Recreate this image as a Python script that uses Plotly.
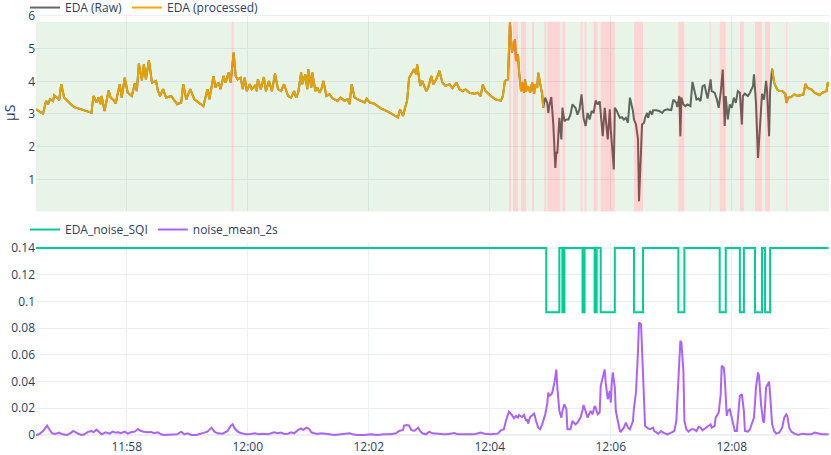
"""
EDA 信号质量图
上图: 原始/处理后 EDA 与噪声区间, 下图: 噪声 SQI 与 2 秒噪声均值
"""

import pandas as pd
import plotly.graph_objects as go

START = pd.Timestamp("2024-01-01 11:56:30")
END_SEC = 786.4

# 原始 EDA (秒, μS)
eda_sec = [
    0, 7, 10, 12, 14, 17, 18, 21, 23, 25, 28, 31, 35, 38, 45, 53, 55, 57, 60, 62,
    64, 65, 68, 72, 74, 77, 79, 83, 85, 88, 91, 95, 98, 100, 102, 105, 107, 109, 112, 115,
    119, 121, 123, 126, 129, 134, 140, 144, 146, 149, 153, 157, 164, 166, 170, 172, 176, 178, 181, 183,
    186, 188, 191, 193, 196, 198, 200, 203, 205, 207, 209, 212, 214, 217, 219, 220, 223, 226, 228, 231,
    234, 237, 240, 243, 246, 250, 253, 256, 258, 260, 263, 264, 267, 269, 270, 273, 274, 277, 279, 281,
    283, 285, 288, 291, 294, 299, 302, 306, 309, 311, 313, 316, 321, 326, 328, 331, 335, 342, 349, 357,
    359, 361, 364, 366, 368, 370, 373, 375, 377, 378, 381, 383, 387, 389, 392, 394, 397, 400, 403, 406,
    410, 413, 417, 420, 423, 426, 430, 435, 438, 441, 443, 446, 451, 456, 461, 463, 465, 468, 470, 472,
    474, 475, 476, 478, 479, 481, 482, 484, 485, 486, 488, 490, 492, 494, 495, 497, 498, 500, 502, 503,
    505, 507, 508, 509, 511, 513, 515, 516, 517, 519, 521, 522, 524, 526, 528, 530, 532, 535, 537, 539,
    541, 543, 545, 547, 549, 551, 553, 555, 557, 559, 560, 562, 564, 565, 567, 569, 570, 573, 574, 576,
    579, 581, 583, 585, 587, 589, 592, 593, 595, 597, 598, 601, 603, 604, 606, 607, 609, 611, 612, 615,
    618, 621, 623, 626, 630, 632, 635, 636, 638, 639, 640, 642, 644, 646, 649, 651, 653, 655, 657, 659,
    661, 663, 665, 666, 669, 670, 673, 675, 677, 679, 681, 683, 684, 686, 688, 690, 692, 694, 696, 698,
    700, 701, 703, 706, 708, 709, 711, 712, 714, 716, 718, 720, 722, 724, 725, 727, 728, 730, 732, 735,
    737, 740, 743, 744, 746, 749, 752, 755, 759, 761, 763, 765, 769, 772, 777, 780, 784, 785, 787,
]
eda_raw = [
    3.14, 3.01, 3.40, 3.30, 3.45, 3.40, 3.57, 3.50, 3.42, 3.91, 3.50, 3.40, 3.28, 3.21, 3.14, 3.07, 3.04, 3.55, 3.35, 3.50,
    3.30, 3.55, 3.09, 3.72, 3.50, 3.42, 3.32, 3.91, 3.50, 4.11, 3.65, 3.55, 3.93, 3.70, 4.54, 4.03, 4.52, 4.06, 4.64, 3.96,
    4.01, 3.70, 3.55, 3.76, 3.50, 3.55, 3.30, 3.35, 3.91, 3.45, 3.76, 3.45, 3.30, 3.24, 3.76, 3.45, 4.16, 3.81, 3.96, 3.76,
    4.16, 3.96, 4.27, 3.96, 4.88, 4.16, 4.06, 4.11, 3.76, 4.11, 3.70, 3.91, 3.76, 3.86, 3.70, 4.06, 3.76, 4.13, 3.70, 4.01,
    3.70, 4.23, 3.76, 3.70, 3.91, 3.55, 3.50, 3.70, 3.50, 3.65, 4.27, 3.91, 4.21, 3.76, 4.37, 3.81, 4.27, 3.70, 3.81, 3.65,
    3.76, 4.01, 3.55, 3.60, 3.48, 3.40, 3.50, 3.40, 3.45, 3.30, 3.91, 3.50, 3.42, 3.35, 3.47, 3.35, 3.32, 3.17, 3.07, 2.94,
    2.89, 3.14, 2.94, 3.19, 3.40, 4.11, 4.27, 4.37, 4.22, 4.52, 3.86, 4.01, 3.70, 3.81, 4.16, 3.91, 4.06, 4.32, 3.96, 3.86,
    3.91, 3.79, 3.96, 3.75, 3.70, 3.75, 3.65, 3.62, 3.65, 3.55, 3.90, 3.70, 3.55, 3.44, 3.41, 3.55, 4.01, 4.06, 5.80, 4.88,
    5.13, 5.28, 4.62, 4.82, 4.31, 3.70, 3.96, 3.65, 4.06, 3.70, 3.85, 3.65, 3.96, 3.62, 3.90, 3.80, 4.26, 3.96, 3.60, 3.19,
    3.50, 3.34, 3.03, 3.24, 3.52, 2.68, 1.35, 1.81, 1.81, 2.88, 2.22, 3.19, 2.78, 2.83, 2.83, 2.98, 3.29, 3.19, 2.98, 3.14,
    3.60, 2.88, 2.63, 3.03, 2.83, 3.09, 3.03, 3.41, 3.29, 3.39, 2.93, 2.32, 3.19, 2.78, 2.22, 3.14, 2.52, 1.30, 3.19, 3.09,
    2.88, 2.90, 2.83, 2.88, 2.73, 3.50, 3.09, 2.83, 2.68, 2.22, 0.33, 2.68, 2.73, 2.88, 3.03, 2.88, 3.09, 2.98, 3.11, 3.11,
    3.09, 3.03, 3.11, 3.14, 3.12, 3.44, 3.34, 3.21, 3.55, 2.32, 3.50, 3.29, 3.24, 3.29, 3.24, 3.98, 3.70, 3.44, 3.47, 3.39,
    3.85, 3.88, 3.60, 3.47, 4.06, 3.70, 3.65, 3.47, 3.19, 3.65, 4.36, 2.63, 3.55, 2.83, 3.29, 3.19, 3.50, 3.34, 3.70, 3.65,
    2.68, 3.55, 3.62, 3.55, 3.65, 3.72, 3.85, 4.21, 3.34, 1.65, 2.63, 3.62, 3.44, 4.01, 3.70, 2.32, 3.70, 4.39, 3.96, 3.75,
    3.70, 3.70, 3.62, 3.34, 3.50, 3.52, 3.60, 3.55, 3.58, 3.60, 3.92, 3.80, 3.75, 3.65, 3.58, 3.65, 3.70, 3.96, 3.85,
]

# 处理后信号缺失的区间 (秒)
processed_gap = [504, 729]

# 噪声区间 (秒)
noise_windows = [
    (194, 196), (469, 471), (473, 478), (481, 486), (492, 494), (504, 506), (507, 520),
    (522, 525), (540, 542), (544, 546), (553, 557), (560, 574), (593, 602), (637, 643),
    (668, 669), (678, 684), (698, 702), (713, 720), (723, 728), (744, 745),
]

# EDA_noise_SQI 阶梯
sqi_sec = [0, 506, 519, 522, 524, 542, 544, 554, 556, 560, 574, 593, 602, 637, 643,
           678, 684, 698, 702, 713, 720, 723, 728, 786]
sqi_val = [0.14, 0.092, 0.14, 0.092, 0.14, 0.092, 0.14, 0.092, 0.14, 0.092, 0.14, 0.092,
           0.14, 0.092, 0.14, 0.092, 0.14, 0.092, 0.14, 0.092, 0.14, 0.092, 0.14, 0.14]

# noise_mean_2s
noise_sec = [
    0, 3, 7, 11, 13, 16, 19, 23, 26, 31, 35, 37, 41, 45, 48, 52, 55, 57, 60, 63,
    65, 69, 73, 76, 79, 82, 84, 88, 91, 94, 98, 101, 104, 107, 111, 114, 117, 121, 124, 127,
    134, 140, 144, 147, 150, 154, 159, 164, 167, 170, 174, 177, 180, 185, 190, 193, 195, 197, 201, 204,
    208, 213, 217, 221, 225, 230, 233, 236, 240, 243, 246, 250, 253, 256, 260, 263, 265, 268, 271, 273,
    276, 279, 283, 286, 291, 296, 302, 307, 311, 314, 319, 326, 332, 339, 345, 352, 357, 360, 364, 365,
    368, 370, 372, 375, 379, 381, 383, 387, 390, 393, 397, 400, 405, 408, 415, 418, 428, 435, 441, 445,
    451, 458, 461, 464, 466, 469, 472, 474, 476, 478, 479, 482, 484, 486, 487, 488, 490, 493, 494, 496,
    498, 500, 502, 505, 507, 508, 509, 511, 512, 514, 516, 517, 519, 521, 522, 524, 526, 527, 530, 532,
    535, 537, 540, 542, 543, 545, 547, 550, 552, 554, 555, 557, 559, 560, 562, 564, 565, 567, 569, 570,
    571, 572, 574, 575, 577, 579, 580, 583, 585, 587, 589, 592, 593, 595, 597, 598, 600, 601, 603, 604,
    607, 609, 612, 613, 617, 620, 622, 626, 630, 633, 635, 637, 639, 640, 642, 643, 645, 647, 650, 652,
    655, 657, 659, 661, 664, 667, 669, 670, 673, 674, 677, 679, 680, 682, 683, 685, 686, 688, 689, 691,
    693, 695, 697, 698, 700, 702, 703, 706, 708, 711, 712, 714, 716, 717, 719, 721, 722, 724, 726, 727,
    728, 730, 732, 734, 737, 740, 742, 744, 745, 747, 749, 752, 756, 760, 764, 769, 772, 775, 779, 786,
]
noise_mean = [
    0.0, 0.0005, 0.003, 0.007, 0.0045, 0.0013, 0.0008, 0.0018, 0.0005, 0.0, 0.0018, 0.003, 0.0013, 0.0, 0.0005, 0.0025, 0.003, 0.002, 0.004, 0.0018,
    0.0005, 0.002, 0.001, 0.0025, 0.0018, 0.002, 0.0013, 0.0025, 0.001, 0.002, 0.0025, 0.0045, 0.003, 0.0025, 0.002, 0.0023, 0.0013, 0.002, 0.0005, 0.0,
    0.0, 0.0005, 0.0025, 0.0005, 0.0013, 0.0, 0.0, 0.0008, 0.0018, 0.0025, 0.0055, 0.0025, 0.0013, 0.001, 0.003, 0.0068, 0.008, 0.005, 0.002, 0.0013,
    0.0005, 0.0008, 0.0013, 0.0005, 0.001, 0.0005, 0.0013, 0.002, 0.0013, 0.0018, 0.0008, 0.001, 0.002, 0.0013, 0.0038, 0.005, 0.0038, 0.0055, 0.0045, 0.002,
    0.0013, 0.0008, 0.0013, 0.0008, 0.0005, 0.0, 0.0005, 0.0005, 0.0013, 0.0005, 0.0, 0.0, 0.0005, 0.0, 0.0005, 0.0005, 0.0013, 0.003, 0.0038, 0.007,
    0.0075, 0.007, 0.0038, 0.003, 0.0055, 0.003, 0.0013, 0.0005, 0.0025, 0.0013, 0.001, 0.0005, 0.0005, 0.0005, 0.0015, 0.0005, 0.0005, 0.0005, 0.0018, 0.001,
    0.0005, 0.001, 0.0035, 0.0043, 0.0105, 0.0175, 0.015, 0.0125, 0.0143, 0.013, 0.015, 0.0135, 0.015, 0.0105, 0.0118, 0.0085, 0.0135, 0.0155, 0.016, 0.0105,
    0.0055, 0.0043, 0.008, 0.0155, 0.0235, 0.0318, 0.0293, 0.0305, 0.0318, 0.039, 0.049, 0.0355, 0.018, 0.013, 0.018, 0.023, 0.0193, 0.0043, 0.0043, 0.0105,
    0.008, 0.0093, 0.013, 0.0185, 0.0225, 0.018, 0.013, 0.018, 0.0155, 0.0218, 0.0205, 0.0155, 0.0168, 0.0368, 0.043, 0.049, 0.039, 0.0268, 0.033, 0.0243,
    0.039, 0.0468, 0.0355, 0.018, 0.0105, 0.003, 0.0025, 0.0055, 0.0093, 0.0055, 0.0043, 0.0105, 0.0205, 0.0318, 0.063, 0.0843, 0.083, 0.063, 0.018, 0.0068,
    0.005, 0.0043, 0.0055, 0.003, 0.001, 0.003, 0.0018, 0.0005, 0.0018, 0.003, 0.0105, 0.0405, 0.0705, 0.0693, 0.048, 0.0105, 0.0043, 0.0025, 0.0043, 0.0043,
    0.003, 0.006, 0.0055, 0.0035, 0.005, 0.0068, 0.008, 0.0055, 0.0068, 0.013, 0.0168, 0.0305, 0.0518, 0.0505, 0.043, 0.0143, 0.018, 0.0193, 0.0155, 0.008,
    0.003, 0.003, 0.018, 0.0293, 0.0305, 0.018, 0.003, 0.0025, 0.0043, 0.0105, 0.013, 0.0355, 0.0468, 0.0443, 0.023, 0.0105, 0.0093, 0.0355, 0.0393, 0.04,
    0.0305, 0.008, 0.003, 0.001, 0.0018, 0.0055, 0.013, 0.0155, 0.0143, 0.0055, 0.0025, 0.001, 0.0, 0.001, 0.0005, 0.0005, 0.0018, 0.001, 0.0005, 0.0005,
]

RAW_COLOR = "#666666"
PROC_COLOR = "orange"
SQI_COLOR = "#00cc96"
NOISE_COLOR = "#ab63fa"


def to_time(seconds):
    """秒偏移 -> 时间戳"""
    return [START + pd.Timedelta(seconds=s) for s in seconds]


def mask_processed(seconds, values, gap):
    """处理后信号: 缺失区间置空"""
    return [None if gap[0] <= s <= gap[1] else v for s, v in zip(seconds, values)]


def quality_shapes(windows, y_top):
    """噪声区间为红色, 其余为绿色"""
    shapes = []
    edges = [0]
    for a, b in windows:
        edges += [a, b]
    edges.append(END_SEC)
    for i in range(0, len(edges), 2):
        shapes.append(dict(type="rect", xref="x", yref="y", x0=to_time([edges[i]])[0],
                           x1=to_time([edges[i + 1]])[0], y0=0, y1=y_top,
                           fillcolor="rgba(0,128,0,0.09)", line_width=0, layer="above"))
    for a, b in windows:
        shapes.append(dict(type="rect", xref="x", yref="y", x0=to_time([a])[0],
                           x1=to_time([b])[0], y0=0, y1=y_top,
                           fillcolor="rgba(255,0,0,0.17)", line_width=0, layer="above"))
    return shapes


fig = go.Figure()
fig.add_trace(go.Scatter(x=to_time(eda_sec), y=eda_raw, mode="lines", name="EDA (Raw)",
                         line=dict(color=RAW_COLOR, width=2), xaxis="x", yaxis="y",
                         legend="legend"))
fig.add_trace(go.Scatter(x=to_time(eda_sec), y=mask_processed(eda_sec, eda_raw, processed_gap),
                         mode="lines", name="EDA (processed)",
                         line=dict(color=PROC_COLOR, width=2), xaxis="x", yaxis="y",
                         legend="legend", connectgaps=False))
fig.add_trace(go.Scatter(x=to_time(sqi_sec), y=sqi_val, mode="lines", name="EDA_noise_SQI",
                         line=dict(color=SQI_COLOR, width=2, shape="hv"), xaxis="x2", yaxis="y2",
                         legend="legend2"))
fig.add_trace(go.Scatter(x=to_time(noise_sec), y=noise_mean, mode="lines", name="noise_mean_2s",
                         line=dict(color=NOISE_COLOR, width=2), xaxis="x2", yaxis="y2",
                         legend="legend2"))

x_range = [START, START + pd.Timedelta(seconds=END_SEC)]

fig.update_layout(
    template="plotly_white",
    width=831,
    height=455,
    margin=dict(l=36, r=2, t=14, b=17, autoexpand=False),
    shapes=quality_shapes(noise_windows, max(eda_raw) + 0.02),
    xaxis=dict(domain=[0, 1], anchor="y", range=x_range, matches="x2",
               showticklabels=False, dtick=120000, tick0=START.normalize()),
    xaxis2=dict(domain=[0, 1], anchor="y2", range=x_range, dtick=120000,
                tick0=START.normalize(), tickformat="%H:%M"),
    yaxis=dict(domain=[0.5344, 1], range=[0.017, 6.06], dtick=1, title=dict(text="μS"),
               ticklabeloverflow="allow"),
    yaxis2=dict(domain=[0, 0.46], range=[-0.00225, 0.1438], dtick=0.02,
                ticklabeloverflow="allow"),
    legend=dict(orientation="h", x=-0.0139, y=0.981, xanchor="left", yanchor="bottom",
                bgcolor="rgba(0,0,0,0)"),
    legend2=dict(orientation="h", x=-0.0139, y=0.4575, xanchor="left", yanchor="bottom",
                 bgcolor="rgba(0,0,0,0)"),
)

# 页面默认 body 外边距为 8px, 去掉以便图表贴齐窗口左上角
fig.write_html("out.html", config={"displayModeBar": False},
               post_script="document.body.style.margin = '0';")
